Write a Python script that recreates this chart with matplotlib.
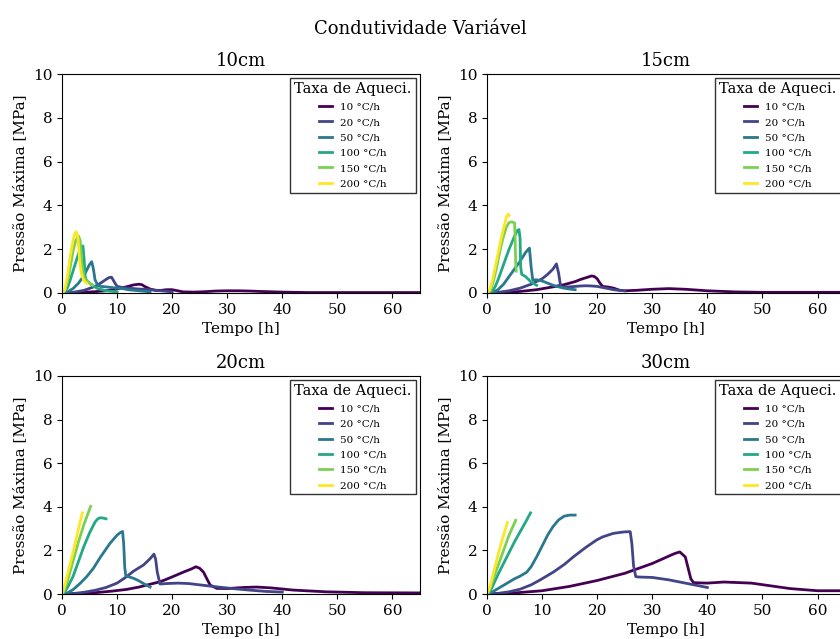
import numpy as np
import matplotlib.pyplot as plt

plt.rcParams['font.family'] = 'DejaVu Serif'

rates = ['10 °C/h', '20 °C/h', '50 °C/h', '100 °C/h', '150 °C/h', '200 °C/h']
panels = ['10cm', '15cm', '20cm', '30cm']

# --- 10cm ---
t10_10 = [0, 2, 4, 6, 8, 10, 12, 13, 14, 14.5, 15, 16, 17, 18, 19, 20, 21, 22, 24, 26, 28, 30, 32, 34, 36, 40, 45, 50, 55, 60, 65]
p10_10 = [0, 0.01, 0.03, 0.06, 0.1, 0.18, 0.3, 0.37, 0.4, 0.38, 0.3, 0.18, 0.12, 0.12, 0.15, 0.15, 0.1, 0.05, 0.04, 0.06, 0.09, 0.1, 0.1, 0.09, 0.07, 0.04, 0.02, 0.02, 0.02, 0.02, 0.02]
t10_20 = [0, 2, 4, 6, 7, 8, 8.5, 9, 9.5, 10, 11, 12, 13, 14, 16, 18, 20]
p10_20 = [0, 0.03, 0.12, 0.3, 0.45, 0.62, 0.7, 0.72, 0.5, 0.3, 0.25, 0.22, 0.2, 0.18, 0.15, 0.1, 0.05]
t10_50 = [0, 1, 2, 3, 4, 4.5, 5, 5.4, 5.7, 6.0, 6.5, 7, 8, 9, 10, 11, 12, 14, 16]
p10_50 = [0, 0.05, 0.2, 0.45, 0.8, 1.05, 1.3, 1.43, 1.1, 0.6, 0.35, 0.3, 0.28, 0.25, 0.22, 0.2, 0.15, 0.1, 0.05]
t10_100 = [0, 0.5, 1, 1.5, 2, 2.5, 3, 3.5, 3.8, 4.0, 4.2, 4.5, 4.8, 5.5, 6.5, 8, 10]
p10_100 = [0, 0.05, 0.25, 0.6, 1.0, 1.4, 1.8, 2.1, 2.15, 1.6, 0.75, 0.55, 0.5, 0.35, 0.2, 0.1, 0.05]
t10_150 = [0, 0.5, 1.0, 1.5, 2.0, 2.5, 3.0, 3.3, 3.6, 4.0, 4.5, 5.0, 5.5]
p10_150 = [0, 0.1, 0.5, 1.2, 1.9, 2.4, 2.6, 2.4, 1.4, 0.7, 0.55, 0.45, 0.35]
t10_200 = [0, 0.5, 1.0, 1.5, 2.0, 2.3, 2.6, 2.9, 3.2, 3.5, 4.0, 4.5]
p10_200 = [0, 0.15, 0.8, 1.7, 2.4, 2.7, 2.8, 2.5, 1.5, 0.9, 0.55, 0.45]

# --- 15cm ---
t15_10 = [0, 3, 6, 9, 12, 14, 16, 17, 18, 19, 19.5, 20, 20.5, 21, 22, 23, 24, 25, 27, 30, 33, 36, 40, 45, 50, 55, 60, 65]
p15_10 = [0, 0.02, 0.07, 0.15, 0.28, 0.38, 0.52, 0.62, 0.7, 0.78, 0.75, 0.65, 0.45, 0.3, 0.27, 0.22, 0.13, 0.1, 0.12, 0.17, 0.2, 0.17, 0.1, 0.05, 0.03, 0.03, 0.03, 0.03]
t15_20 = [0, 2, 4, 6, 8, 10, 11, 12, 12.6, 13.0, 13.3, 13.6, 15, 17, 18, 19, 20, 21, 22, 23, 24, 25]
p15_20 = [0, 0.03, 0.1, 0.22, 0.4, 0.65, 0.85, 1.1, 1.33, 0.9, 0.4, 0.27, 0.28, 0.32, 0.33, 0.32, 0.3, 0.25, 0.2, 0.15, 0.12, 0.1]
t15_50 = [0, 1, 2, 3, 4, 5, 6, 7, 7.5, 7.7, 8.0, 8.3, 9, 10, 11, 12, 13, 14, 15, 16]
p15_50 = [0, 0.03, 0.15, 0.4, 0.75, 1.1, 1.45, 1.85, 2.0, 2.05, 1.2, 0.6, 0.6, 0.55, 0.45, 0.35, 0.28, 0.22, 0.18, 0.15]
t15_100 = [0, 1, 1.5, 2, 3, 4, 5, 5.5, 5.8, 6.0, 6.1, 6.3, 7, 8, 9]
p15_100 = [0, 0.1, 0.3, 0.6, 1.3, 2.0, 2.6, 2.85, 2.9, 2.5, 1.2, 0.85, 0.75, 0.5, 0.35]
t15_150 = [0, 0.5, 1, 1.5, 2, 2.5, 3, 3.5, 4, 4.5, 5.0, 5.1, 5.2, 5.3]
p15_150 = [0, 0.05, 0.4, 0.9, 1.5, 2.1, 2.6, 3.0, 3.22, 3.25, 3.2, 2.5, 1.4, 1.0]
t15_200 = [0, 0.5, 1, 1.5, 2, 2.5, 3, 3.5, 3.8, 4.0]
p15_200 = [0, 0.15, 0.6, 1.2, 1.8, 2.4, 2.95, 3.45, 3.6, 3.55]

# --- 20cm ---
t20_10 = [0, 3, 6, 9, 11.7, 14, 16, 17.8, 19, 20.8, 22, 23.5, 24.3, 25, 25.7, 26.3, 26.9, 28.1, 30, 33, 35.3, 38, 42, 48, 55, 65]
p20_10 = [0, 0.02, 0.06, 0.13, 0.21, 0.32, 0.45, 0.56, 0.68, 0.87, 1.0, 1.15, 1.25, 1.18, 1.0, 0.7, 0.41, 0.26, 0.25, 0.3, 0.32, 0.28, 0.18, 0.1, 0.06, 0.05]
t20_20 = [0, 2, 4, 6, 8, 10, 11.7, 13, 14.8, 16, 16.7, 17.0, 17.3, 17.8, 19, 21, 23, 25, 28, 31, 34, 37, 40]
p20_20 = [0, 0.02, 0.08, 0.17, 0.3, 0.5, 0.79, 1.05, 1.33, 1.62, 1.83, 1.6, 1.0, 0.46, 0.48, 0.5, 0.48, 0.42, 0.33, 0.25, 0.18, 0.12, 0.09]
t20_50 = [0, 1, 2, 3.3, 4.5, 5.7, 7, 8.7, 10, 10.5, 11, 11.2, 11.4, 11.6, 12, 13, 14, 15, 16]
p20_50 = [0, 0.05, 0.2, 0.49, 0.8, 1.18, 1.7, 2.32, 2.7, 2.8, 2.87, 2.3, 1.2, 0.82, 0.8, 0.72, 0.6, 0.45, 0.32]
t20_100 = [0, 0.5, 1, 2, 3, 4, 5, 6, 6.5, 7, 7.5, 8]
p20_100 = [0, 0.1, 0.3, 0.8, 1.5, 2.2, 2.8, 3.3, 3.45, 3.5, 3.48, 3.45]
t20_150 = [0, 0.3, 1, 2, 3, 4, 5.2]
p20_150 = [0, 0.1, 0.6, 1.5, 2.4, 3.2, 4.02]
t20_200 = [0, 0.3, 1, 2, 3, 3.7]
p20_200 = [0, 0.2, 0.9, 1.9, 3.0, 3.72]

# --- 30cm ---
t30_10 = [0, 5, 10, 15, 20, 25, 30, 34, 35, 36, 36.5, 37, 37.5, 40, 43, 48, 55, 60, 65]
p30_10 = [0, 0.05, 0.15, 0.35, 0.62, 0.95, 1.4, 1.85, 1.93, 1.7, 1.2, 0.7, 0.52, 0.5, 0.55, 0.5, 0.25, 0.15, 0.15]
t30_20 = [0, 2, 4, 6, 8, 9.6, 12, 14, 15.7, 18, 19.9, 21, 22.9, 24, 25, 26, 26.3, 26.6, 27, 27.5, 30, 33, 36, 40]
p30_20 = [0, 0.03, 0.1, 0.22, 0.42, 0.64, 1.0, 1.35, 1.71, 2.15, 2.48, 2.62, 2.78, 2.82, 2.85, 2.86, 2.3, 1.3, 0.8, 0.78, 0.76, 0.65, 0.5, 0.3]
t30_50 = [0, 1, 2, 3, 4, 5, 6, 7.2, 8, 9, 10, 11, 12, 13, 14, 15, 16]
p30_50 = [0, 0.1, 0.25, 0.4, 0.55, 0.7, 0.82, 1.0, 1.25, 1.7, 2.2, 2.7, 3.1, 3.4, 3.57, 3.62, 3.62]
t30_100 = [0, 0.5, 1, 2, 3, 4, 5, 6, 7, 7.9]
p30_100 = [0, 0.1, 0.35, 0.9, 1.4, 1.9, 2.4, 2.85, 3.3, 3.72]
t30_150 = [0, 0.5, 1, 2, 3, 4, 5.2]
p30_150 = [0, 0.2, 0.6, 1.3, 2.0, 2.7, 3.38]
t30_200 = [0, 0.5, 1, 2, 3, 3.7]
p30_200 = [0, 0.3, 0.8, 1.8, 2.7, 3.28]

data = [
    [(t10_10, p10_10), (t10_20, p10_20), (t10_50, p10_50), (t10_100, p10_100), (t10_150, p10_150), (t10_200, p10_200)],
    [(t15_10, p15_10), (t15_20, p15_20), (t15_50, p15_50), (t15_100, p15_100), (t15_150, p15_150), (t15_200, p15_200)],
    [(t20_10, p20_10), (t20_20, p20_20), (t20_50, p20_50), (t20_100, p20_100), (t20_150, p20_150), (t20_200, p20_200)],
    [(t30_10, p30_10), (t30_20, p30_20), (t30_50, p30_50), (t30_100, p30_100), (t30_150, p30_150), (t30_200, p30_200)],
]

colors = plt.cm.viridis(np.linspace(0, 1, len(rates)))

fig = plt.figure(figsize=(8.4, 6.39), dpi=100)
# right column runs past the figure edge, as in the original
positions = [
    [0.0738, 0.5415, 0.4262, 0.3425],
    [0.5798, 0.5415, 0.4262, 0.3425],
    [0.0738, 0.0704, 0.4262, 0.3412],
    [0.5798, 0.0704, 0.4262, 0.3412],
]

for i, name in enumerate(panels):
    ax = fig.add_axes(positions[i])
    for j, (t, p) in enumerate(data[i]):
        ax.plot(t, p, color=colors[j], lw=2, label=rates[j])
    ax.set_xlim(0, 65)
    ax.set_ylim(0, 10)
    ax.set_xticks(np.arange(0, 61, 10))
    ax.set_yticks(np.arange(0, 11, 2))
    ax.tick_params(labelsize=11)
    ax.set_title(name, fontsize=13)
    ax.set_xlabel('Tempo [h]', fontsize=11)
    ax.set_ylabel('Pressão Máxima [MPa]', fontsize=11)
    leg = ax.legend(title='Taxa de Aqueci.', loc='upper right', fontsize=7.5,
                    title_fontsize=10.5, fancybox=False, edgecolor='#333333',
                    framealpha=1, handlelength=1.2, labelspacing=0.58,
                    borderaxespad=0.4)
    leg.get_frame().set_linewidth(1.0)

fig.suptitle('Condutividade Variável', fontsize=13, y=0.968)

fig.savefig('out.png', dpi=100)
